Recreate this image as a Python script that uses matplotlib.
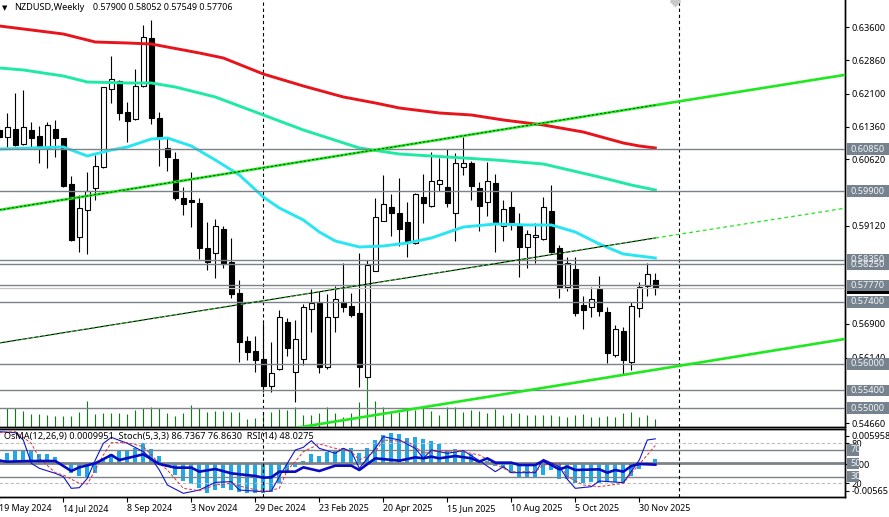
"""NZDUSD weekly chart with OsMA, Stochastic and RSI sub-window."""

import matplotlib

matplotlib.use("Agg")
import matplotlib.pyplot as plt
from matplotlib.patches import Rectangle
from matplotlib.transforms import blended_transform_factory
import numpy as np

plt.rcParams["font.family"] = ["Noto Sans", "DejaVu Sans"]

opens = [
    .61284, .61125, .61306, .60968, .61284, .61148, .60877, .61306, .61103, .60063,
    .58865, .59476, .59973, .60447, .62210, .62391, .61690, .61532, .62278, .63363,
    .61555, .60877, .60628, .59747, .59702, .59634, .58617, .58504, .59046, .58300,
    .57600, .56515, .56289, .56108, .55498, .55882, .56944, .55814, .56108, .57238,
    .57374, .55927, .57058, .57396, .57306, .57148, .55702, .58097, .59227, .59543,
    .59408, .59205, .58730, .59769, .59566, .60063, .59995, .59408, .60447, .60538,
    .59973, .59656, .60086, .59114, .59543, .59114, .58639, .58865, .58820, .59453,
    .58617, .57735, .58142, .57328, .57283, .57690, .57170, .56199, .56741, .56040,
    .57261, .57758, .57900,
]
highs = [
    .61397, .61668, .62120, .62188, .61464, .61374, .61464, .61510, .61103, .60244,
    .59815, .60334, .60719, .62255, .62956, .62414, .61916, .62662, .63657, .63770,
    .61690, .61103, .60786, .59995, .60334, .59747, .59205, .59272, .59114, .58843,
    .57894, .56628, .56628, .56922, .56492, .57215, .57035, .56990, .57351, .57690,
    .57645, .57577, .57758, .58278, .57600, .58504, .58346, .59747, .60267, .59837,
    .60199, .59656, .59860, .60289, .60786, .60651, .60854, .60764, .61125, .60583,
    .60108, .60560, .60289, .59702, .59905, .59408, .59023, .59182, .59769, .60040,
    .58685, .58413, .58413, .57532, .57735, .57984, .57283, .56877, .56831, .57396,
    .57848, .58278, .58052,
]
lows = [
    .61058, .60900, .60922, .60945, .60900, .60538, .60425, .60673, .59995, .58775,
    .58526, .58481, .59702, .60425, .61894, .61510, .61012, .61510, .62255, .61419,
    .60470, .60357, .59702, .59363, .59091, .58368, .58120, .57939, .58165, .57487,
    .56040, .56085, .55814, .55362, .55362, .55860, .56176, .55136, .55973, .56719,
    .55792, .55882, .56719, .57170, .57058, .55475, .55702, .58097, .59227, .58888,
    .58662, .58413, .58707, .59182, .59543, .59905, .59543, .58775, .60267, .59702,
    .59001, .59340, .58526, .58775, .59023, .57961, .58165, .58278, .58797, .58504,
    .57487, .57645, .57080, .56786, .57058, .57080, .56018, .56153, .55747, .55860,
    .57058, .57532, .57549,
]
closes = [
    .61125, .61351, .60945, .61351, .61103, .60922, .61397, .61103, .60018, .58797,
    .59521, .59905, .60470, .62255, .62436, .61668, .61487, .62278, .63385, .61555,
    .61103, .60673, .59747, .59611, .59656, .58617, .58300, .59114, .58255, .57577,
    .56492, .56266, .56085, .55498, .55792, .57058, .56357, .56560, .57283, .57374,
    .55927, .57058, .57464, .57283, .57103, .55927, .58233, .59317, .59611, .59408,
    .59046, .58775, .59837, .59634, .60131, .60153, .59634, .60538, .60538, .60018,
    .59566, .60131, .59182, .59498, .59205, .58639, .58933, .58910, .59543, .58526,
    .57713, .58278, .57148, .57215, .57464, .57193, .56244, .56786, .56085, .57306,
    .57735, .58029, .57706,
]
volumes = [
    130, 187, 187, 160, 130, 130, 120, 110, 110, 110,
    147, 260, 130, 143, 137, 143, 130, 170, 187, 197,
    187, 137, 110, 137, 220, 187, 150, 163, 163, 150,
    150, 80, 87, 150, 150, 180, 170, 197, 120, 120,
    137, 203, 143, 103, 137, 253, 503, 260, 200, 137,
    153, 190, 170, 200, 163, 120, 200, 200, 153, 170,
    163, 137, 180, 120, 137, 137, 120, 120, 120, 120,
    110, 103, 120, 130, 103, 103, 110, 103, 137, 153,
    97, 120, 83,
]

# moving averages, read at a few bars
ma_red_bars = [0, 4, 8, 12, 16, 19, 25, 28, 33, 38, 43, 47, 50, 55, 59, 63, 68, 73, 78, 80, 82]
ma_red = [.63634, .63544, .63453, .63272, .63250, .63227, .63024, .62911, .62549, .62278, .62030,
          .61894, .61781, .61668, .61623, .61510, .61397, .61238, .60990, .60922, .60877]
ma_teal_bars = [0, 3, 8, 11, 16, 19, 22, 27, 30, 33, 38, 45, 50, 54, 62, 68, 75, 79, 82]
ma_teal = [.62685, .62640, .62504, .62368, .62346, .62346, .62255, .62029, .61826, .61623, .61284, .60877,
           .60741, .60696, .60606, .60515, .60221, .60040, .59927]
ma_cyan_bars = [0, 8, 11, 14, 16, 19, 21, 24, 27, 30, 33, 35, 38, 40, 42, 45, 48, 51, 54, 58, 62, 66, 69, 72, 75, 78, 82]
ma_cyan = [.60854, .60900, .60696, .60832, .60900, .61080, .61103, .60922, .60606, .60267, .59769,
           .59521, .59250, .58978, .58775, .58639, .58662, .58730, .58843, .59091, .59159, .59137, .59137, .58978,
           .58707, .58481, .58391]

# channel trend lines
upper_bars = [0, 106]
upper_prices = [.59476, .62538]
upper_dash_bars = [0, 82]
upper_dash_prices = [.59476, .61849]
mid_bars = [0, 82]
mid_prices = [.56470, .58843]
mid_ext_bars = [82, 105.4]
mid_ext_prices = [.58843, .59507]
lower_bars = [37, 106]
lower_prices = [.54549, .56569]

levels = [.6085, .5990, .5835, .5825, .5777, .5740, .5600, .5540, .5500]
level_labels = ["0.60850", "0.59900", "0.58350", "0.58250", "0.57770", "0.57400", "0.56000", "0.55400", "0.55000"]
price_ticks = [.6360, .6286, .6210, .6136, .6062, .5912, .5690, .5614, .5466]
price_tick_labels = ["0.63600", "0.62860", "0.62100", "0.61360", "0.60620", "0.59120", "0.56900", "0.56140", "0.54660"]
last_price = .57706
marker_lines = [33, 85]

date_bars = [0, 8, 16, 24, 32, 40, 48, 56, 64, 72, 80]
date_labels = ["19 May 2024", "14 Jul 2024", "8 Sep 2024", "3 Nov 2024", "29 Dec 2024", "23 Feb 2025",
               "20 Apr 2025", "15 Jun 2025", "10 Aug 2025", "5 Oct 2025", "30 Nov 2025"]

# OsMA in units of 0.001
osma = [
    .98, 2.38, 2.80, 2.87, 2.80, 2.10, 2.10, 1.40, .49, -1.96,
    -2.52, -2.66, -1.82, .98, 2.10, 2.80, 2.80, 3.29, 4.48, 3.08,
    1.68, -.56, -2.31, -3.57, -4.27, -5.11, -6.16, -5.46, -5.11, -5.46,
    -5.95, -6.16, -6.16, -6.02, -5.81, -4.06, -1.61, -.56, .63, 2.10,
    1.75, 2.45, 2.80, 3.29, 3.29, 2.38, 3.29, 5.04, 6.09, 6.44,
    6.30, 5.39, 5.60, 5.25, 4.83, 4.20, 2.94, 3.08, 2.80, 2.10,
    .84, .70, -.42, -.91, -1.82, -2.80, -3.01, -3.01, -2.31, -1.26,
    -3.22, -3.22, -3.92, -4.06, -3.85, -3.92, -3.71, -3.71, -3.92, -2.52,
    -1.12, .35, .995,
]
rsi_bars = [0, 1, 4, 7, 9, 10, 12, 14, 15, 18, 20, 22, 24, 25, 27, 29, 32, 33, 34, 35, 37, 38, 40, 42, 44, 45, 47,
            50, 52, 53, 54, 55, 57, 59, 60, 61, 62, 64, 65, 67, 68, 70, 71, 72, 75, 76, 77, 78, 79, 80, 82]
rsi = [54, 52.5, 53.5, 53.5, 38.5, 44, 50, 62.5, 55, 63.5, 49, 43.5, 43.5, 37.5, 41.5, 35, 31, 28.5, 29, 37.5, 37.5,
       44, 38.5, 46.5, 46.5, 40, 57.5, 54, 59, 57.5, 60, 57.5, 61, 57.5, 52.5, 57.5, 51, 51, 47.5, 47.5, 54, 41, 45,
       40, 41, 36, 40, 37.5, 46, 49, 48.03]
stoch_bars = [0, 2, 3, 4, 5, 7, 8, 9, 10, 11, 12, 13, 14, 16, 18, 19, 20, 21, 23, 25, 27, 29, 30, 33, 34, 35, 37, 38,
              39, 40, 42, 43, 44, 45, 46, 47, 48, 50, 52, 53, 54, 56, 58, 60, 62, 63, 64, 67, 68, 70, 71, 72, 74, 75,
              78, 80, 81, 82]
stoch_main = [97.5, 96, 85, 50, 42.5, 35, 30, 12.5, 13.5, 27.5, 55, 80, 89, 80, 67.5, 57.5, 40, 17.5, 5, 10, 21.5,
              22.5, 10, 7.5, 8.5, 30, 70, 74, 84, 72.5, 65, 72.5, 67.5, 42.5, 57.5, 72.5, 90, 85, 72.5, 57.5, 70, 65,
              69, 54, 37.5, 45, 36, 36, 56, 45, 26, 12.5, 15, 23.5, 21, 55, 85, 86.74]
signal_bars = [0, 2, 4, 5, 7, 8, 10, 11, 12, 13, 14, 16, 18, 19, 20, 21, 23, 25, 27, 29, 30, 33, 35, 36, 37, 38, 40,
               42, 44, 45, 47, 48, 51, 52, 53, 55, 58, 60, 63, 64, 67, 68, 70, 71, 73, 75, 78, 79, 81, 82]
stoch_signal = [96, 97.5, 80, 57.5, 36, 32.5, 20, 19, 40, 62.5, 81, 81, 75, 62.5, 50, 40, 12.5, 9, 17.5, 20, 16, 7.5,
                12.5, 40, 52.5, 67.5, 79, 72.5, 67.5, 55, 67.5, 85, 82.5, 75, 65, 69, 67.5, 62.5, 42.5, 37.5, 37.5,
                47.5, 50, 30, 17.5, 15, 20, 35, 62.5, 76.86]
ind_solid_levels = [70, 30]
ind_dash_levels = [80, 20]
ind_tag_levels = [70, 50, 30]

# figure layout in reference pixels
W, H = 889, 517
LEFT, RIGHT = -0.67, 845.5
PRICE_BOTTOM = 427
IND_TOP, IND_BOTTOM = 429, 497
LEVEL_GREY = "#7b8389"
TAG_GREY = "#76828e"
FONT = 6.6


def add_tag(ax, value, text, width_px, zorder=10, face=TAG_GREY, color="#f4f6f7"):
    """Draw a filled label on the right of an axis, centred on a y value."""
    trans = blended_transform_factory(ax.transAxes, ax.transData)
    span = RIGHT - LEFT
    x0 = 1 + 1.5 / span
    ymin, ymax = ax.get_ylim()
    box_h = 11.5 * (ymax - ymin) / (ax.get_position().height * H)
    ax.add_patch(Rectangle((x0, value - box_h / 2), width_px / span, box_h, transform=trans,
                           facecolor=face, edgecolor="none", clip_on=False, zorder=zorder))
    ax.text(x0 + 3.5 / span, value, text, transform=trans, color=color, fontsize=FONT, va="center",
            ha="left", clip_on=False, zorder=zorder + 0.1)


def draw_candles(ax):
    """Draw the weekly candles as wicks plus white or black bodies."""
    bars = np.arange(len(opens))
    o = np.array(opens)
    c = np.array(closes)
    ax.vlines(bars, lows, highs, color="black", linewidth=0.8, zorder=3)
    up = c >= o
    body_low = np.minimum(o, c)
    body_h = np.abs(c - o)
    ax.bar(bars, body_h, width=0.62, bottom=body_low, color=np.where(up, "white", "black"),
           edgecolor="black", linewidth=0.8, zorder=4)


fig = plt.figure(figsize=(W / 100, H / 100), dpi=100)
ax_vol = fig.add_axes([LEFT / W, 1 - PRICE_BOTTOM / H, (RIGHT - LEFT) / W, PRICE_BOTTOM / H])
ax = ax_vol.twinx()
ax_osma = fig.add_axes([LEFT / W, 1 - IND_BOTTOM / H, (RIGHT - LEFT) / W, (IND_BOTTOM - IND_TOP) / H])
ax_ind = ax_osma.twinx()

xlim = (0, (RIGHT - LEFT) / 8)

# price window
ax.set_xlim(xlim)
ax.set_ylim(.545713, .642215)
ax_vol.set_ylim(0, PRICE_BOTTOM * 10)
ax_vol.vlines(np.arange(len(volumes)), 0, volumes, color="#0f7a16", linewidth=0.8)
ax_vol.set_yticks([])
ax_vol.set_xticks([])

draw_candles(ax)
for price in levels:
    ax.axhline(price, color=LEVEL_GREY, linewidth=1.0, zorder=6)
ax.axhline(last_price, color="#c2c5c8", linewidth=0.9, zorder=5.5)
for bar in marker_lines:
    ax.axvline(bar, color="black", linewidth=0.8, linestyle=(0, (3, 2.5)), zorder=3.5)

ax.plot(ma_red_bars, ma_red, color="#e8141c", linewidth=2.1, zorder=5)
ax.plot(ma_teal_bars, ma_teal, color="#1eeaa6", linewidth=2.1, zorder=5)
ax.plot(ma_cyan_bars, ma_cyan, color="#27e6f2", linewidth=2.1, zorder=5)

ax.plot(upper_bars, upper_prices, color="#1ee81e", linewidth=1.9, zorder=7)
ax.plot(upper_dash_bars, upper_dash_prices, color="black", linewidth=0.5, linestyle=(0, (3, 3)), zorder=7.1)
ax.plot(mid_bars, mid_prices, color="black", linewidth=0.8, zorder=7)
ax.plot(mid_bars, mid_prices, color="#1ee81e", linewidth=0.8, linestyle=(0, (2, 3)), zorder=7.1)
ax.plot(mid_ext_bars, mid_ext_prices, color="#1ee81e", linewidth=0.9, linestyle=(0, (3, 2.5)), zorder=7)
ax.plot(lower_bars, lower_prices, color="#1ee81e", linewidth=1.9, zorder=7)
ax.plot([84.4], [.64200], marker="D", markersize=5, color="#c9c9c9", zorder=7)

ax.yaxis.tick_right()
ax.set_yticks(price_ticks, price_tick_labels)
ax.tick_params(axis="y", direction="out", length=2.8, width=0.8, pad=1.6, labelsize=FONT, colors="black")

add_tag(ax, last_price, "", 43, zorder=9, face="black", color="black")
for price, text in zip(levels, level_labels):
    add_tag(ax, price, text, 43)

for a in (ax, ax_vol):
    a.spines["top"].set_visible(False)
    a.spines["left"].set_visible(False)
    a.spines["right"].set_linewidth(1.0)
    a.spines["bottom"].set_linewidth(1.0)
ax.set_zorder(ax_vol.get_zorder() + 1)
ax.patch.set_visible(False)

# indicator window
ax_osma.set_xlim(xlim)
ax_ind.set_ylim(-0.5, 101.5)
ax_osma.set_ylim(-6.93, 7.35)
ax_osma.bar(np.arange(len(osma)), osma, width=0.46, color="#1fa9e8")

for value in ind_solid_levels:
    ax_ind.axhline(value, color=LEVEL_GREY, linewidth=1.0, zorder=1)
for value in ind_dash_levels:
    ax_ind.axhline(value, color="#bdbdbd", linewidth=0.8, linestyle=(0, (3, 2)), zorder=1)
ax_ind.axhline(50, color=LEVEL_GREY, linewidth=2.0, zorder=1)
for bar in marker_lines:
    ax_ind.axvline(bar, color="black", linewidth=0.8, linestyle=(0, (3, 2.5)), zorder=2)

ax_ind.plot(stoch_bars, stoch_main, color="#1414c8", linewidth=0.8, zorder=3)
ax_ind.plot(signal_bars, stoch_signal, color="#d8303a", linewidth=0.7, linestyle=(0, (3, 2)), zorder=3)
ax_ind.plot(rsi_bars, rsi, color="#0a0ac0", linewidth=1.9, zorder=4)

ax_osma.yaxis.tick_right()
ax_osma.set_yticks([5.958, 0, -5.65], ["0.0059585", "0.00", "-0.00565"])
ax_osma.tick_params(axis="y", direction="out", length=2.8, width=0.8, pad=1.6, labelsize=FONT)
ax_ind.yaxis.tick_right()
ax_ind.set_yticks(ind_dash_levels, [str(v) for v in ind_dash_levels])
ax_ind.tick_params(axis="y", direction="out", length=2.8, width=0.8, pad=1.6, labelsize=FONT)
for value in ind_tag_levels:
    add_tag(ax_ind, value, str(value), 12)

ax_osma.set_xticks(date_bars, date_labels, ha="left")
ax_osma.tick_params(axis="x", direction="out", length=3.4, width=0.8, pad=1.5, labelsize=6.4)
for a in (ax_ind, ax_osma):
    a.spines["left"].set_visible(False)
    a.spines["right"].set_linewidth(1.0)
    a.spines["top"].set_linewidth(1.0)
    a.spines["bottom"].set_linewidth(1.0)
ax_ind.set_zorder(ax_osma.get_zorder() + 1)
ax_ind.patch.set_visible(False)

# header texts
fig.text(5 / W, 1 - 8 / H, "\u25bc", fontsize=5, va="center", ha="center", family=["DejaVu Sans"])
fig.text(14 / W, 1 - 8 / H, "NZDUSD,Weekly", fontsize=FONT, va="center", ha="left")
fig.text(93 / W, 1 - 8 / H, "0.57900 0.58052 0.57549 0.57706", fontsize=6.45, va="center", ha="left")
fig.text(3.5 / W, 1 - 437 / H, "OsMA(12,26,9) 0.0009951  Stoch(5,3,3) 86.7367 76.8630  RSI(14) 48.0275",
         fontsize=FONT, va="center", ha="left", zorder=20)

fig.savefig("out.png", dpi=100)
